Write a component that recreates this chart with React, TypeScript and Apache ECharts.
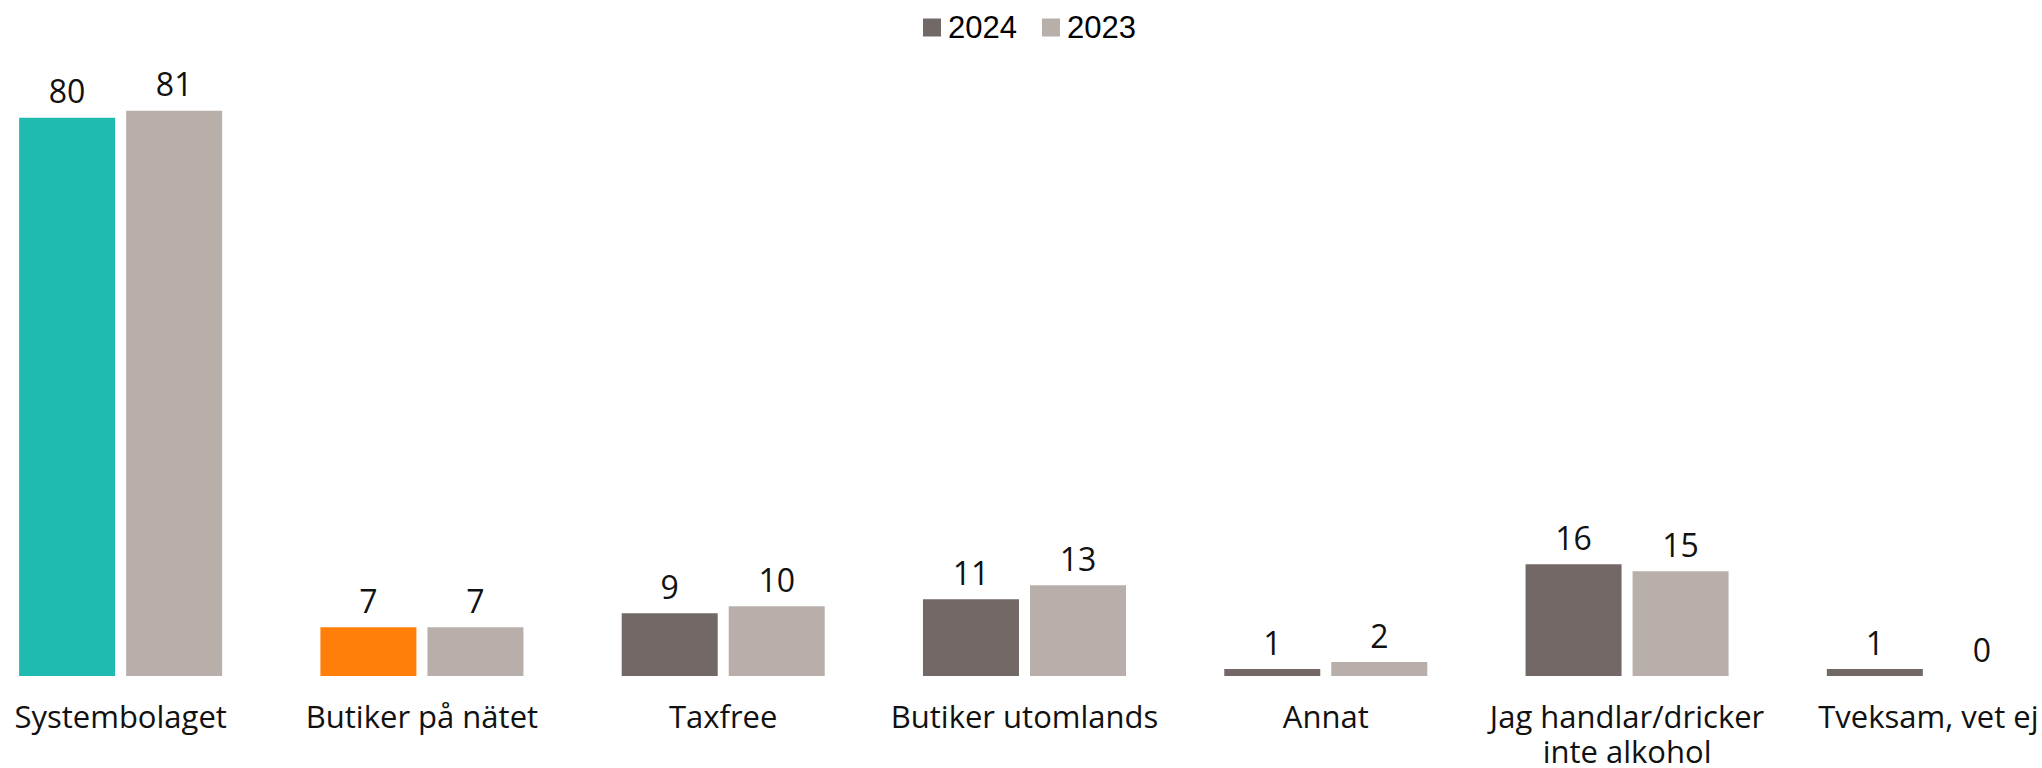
import React, { useEffect, useRef } from "react";
import * as echarts from "echarts";

const categories = [
  "Systembolaget",
  "Butiker på nätet",
  "Taxfree",
  "Butiker utomlands",
  "Annat",
  "Jag handlar/dricker\ninte alkohol",
  "Tveksam, vet ej",
];
const seriesNames = ["2024", "2023"];
const values2024 = [80, 7, 9, 11, 1, 16, 1];
const values2023 = [81, 7, 10, 13, 2, 15, 0];
const colors2024 = ["#20BBB0", "#FF7F0A", "#726866", "#726866", "#726866", "#726866", "#726866"];
const color2024Legend = "#726866";
const color2023 = "#B8AFAB";

const OFFSET_LEFT = 30;
const OFFSET_RIGHT = 37;

export default function App() {
  const ref = useRef<HTMLDivElement>(null);
  useEffect(() => {
    if (!ref.current) return;
    const chart = echarts.init(ref.current, undefined, { renderer: "svg" });
    const labelStyle = {
      show: true,
      position: "top",
      distance: 11,
      fontFamily: "Open Sans",
      fontSize: 32,
      color: "#111",
    };
    chart.setOption({
      animation: false,
      backgroundColor: "#fff",
      legend: {
        data: seriesNames,
        left: 918 + OFFSET_LEFT,
        top: 7,
        itemWidth: 18,
        itemHeight: 18,
        itemGap: 25,
        icon: "rect",
        textStyle: { fontFamily: "Liberation Sans", fontSize: 31, color: "#000", padding: [0, 0, 0, 2] },
      },
      grid: { left: 0, right: 0, top: 48, bottom: 86, containLabel: false },
      xAxis: {
        type: "category",
        data: categories,
        axisLine: { show: false },
        axisTick: { show: false },
        axisLabel: {
          margin: 22,
          interval: 0,
          fontFamily: "Open Sans",
          fontSize: 31,
          lineHeight: 35,
          color: "#111",
          verticalAlign: "top",
        },
      },
      yAxis: { type: "value", min: 0, max: 90, show: false, splitLine: { show: false } },
      series: [
        {
          name: seriesNames[0],
          type: "bar",
          barWidth: 96,
          barGap: "11.5%",
          itemStyle: { color: color2024Legend },
          data: values2024.map((v, i) => ({ value: v, itemStyle: { color: colors2024[i] } })),
          label: labelStyle,
        },
        {
          name: seriesNames[1],
          type: "bar",
          barWidth: 96,
          barGap: "11.5%",
          itemStyle: { color: color2023 },
          data: values2023,
          label: labelStyle,
        },
      ],
    });
    return () => chart.dispose();
  }, []);
  return (
    <div style={{ position: "fixed", left: 0, top: 0, width: 2042, height: 768, overflow: "hidden", background: "#fff" }}>
      <div
        ref={ref}
        style={{
          position: "absolute",
          left: -OFFSET_LEFT,
          top: 0,
          width: 2042 + OFFSET_LEFT + OFFSET_RIGHT,
          height: 768,
        }}
      />
    </div>
  );
}
